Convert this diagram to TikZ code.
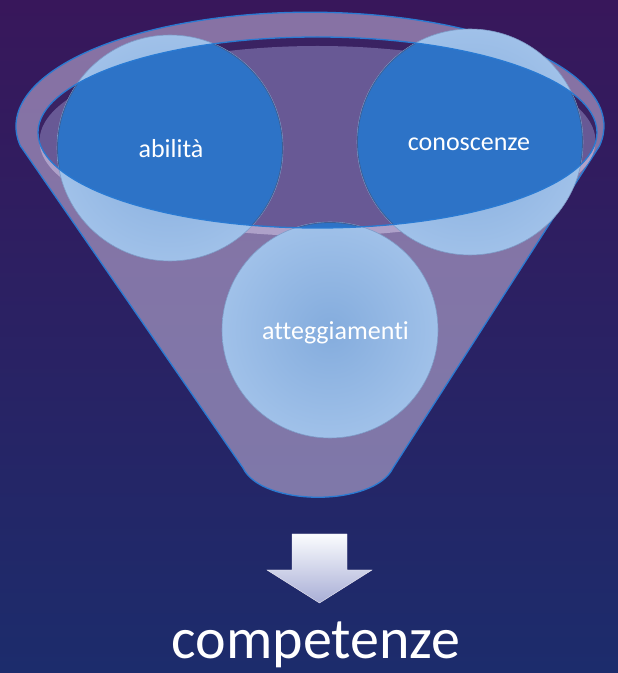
\documentclass[tikz,border=0pt]{standalone}
\usepackage{fontspec}
\setmainfont{Carlito}[Ligatures=NoCommon]
\definecolor{bgtop}{HTML}{38175B}
\definecolor{bgbot}{HTML}{1C2C6C}
\definecolor{funnelc}{HTML}{CABCE0}
\definecolor{rimblue}{HTML}{2A7AD2}
\definecolor{rimlight}{HTML}{AEA1C9}
\definecolor{darkin}{HTML}{3A2262}
\definecolor{midin}{HTML}{685995}
\definecolor{bubin}{HTML}{84ACDD}
\definecolor{bubout}{HTML}{A0C1E9}
\definecolor{bubrim}{HTML}{7E9CC8}
\definecolor{bubdark}{HTML}{2D73C7}
\definecolor{bubedge}{HTML}{3D5F95}
\begin{document}
\begin{tikzpicture}[x=1pt,y=1pt,
  bub/.style={circle, inner sep=0pt, shading=radial, inner color=bubin, outer color=bubout, draw=bubrim, line width=0.6pt},
  lab/.style={text=white, font=\fontsize{26}{30}\selectfont, anchor=base, inner sep=0pt},
  rimline/.style={draw=rimblue, line width=1.3pt}]
\path[use as bounding box, top color=bgtop, bottom color=bgbot] (0,0) rectangle (618,673);
% funnel body
\path[fill=funnelc, fill opacity=0.55, rimline]
  (20.5,527) -- (243,205) .. controls (262,166) and (374,166) .. (393,205)
  -- (599.5,527) arc[start angle=-10,end angle=190,x radius=294,y radius=114] -- cycle;
% opening
\fill[rimlight] (317.5,532) ellipse[x radius=278, y radius=95];
\fill[darkin] (317.5,540.5) ellipse[x radius=279.5, y radius=95.5];
\begin{scope}
  \clip (317.5,540.5) ellipse[x radius=279.5, y radius=95.5];
  \fill[midin] (317.5,532) ellipse[x radius=278, y radius=95];
\end{scope}
% bubbles
\node[bub, minimum size=226pt] (ab) at (170,525) {};
\node[bub, minimum size=226pt] (co) at (470,531) {};
\node[bub, minimum size=216pt] (at) at (330,343) {};
\begin{scope}
  \clip (317.5,540.5) ellipse[x radius=279.5, y radius=95.5];
  \path[fill=bubdark, draw=bubedge, line width=0.8pt] (ab.center) circle[radius=112.5];
  \path[fill=bubdark, draw=bubedge, line width=0.8pt] (co.center) circle[radius=112.5];
  \path[fill=bubdark, draw=bubedge, line width=0.8pt] (at.center) circle[radius=107.5];
\end{scope}
\draw[rimline] (317.5,540.5) ellipse[x radius=279.5, y radius=95.5];
% labels
\node[lab] (tab) at (171,515) {abilità};
\node[lab] (tco) at (469,522) {conoscenze};
\node[lab] (tat) at (335.5,333) {atteggiamenti};
% arrow
\path[top color=white!95!bubout, bottom color=rimlight!60!bubout, draw=white!80!rimlight, line width=0.4pt]
  (292,139) -- (347,139) -- (347,103) -- (372,103) -- (319.5,70) -- (267,103) -- (292,103) -- cycle;
\node[text=white, font=\fontsize{58}{64}\selectfont, anchor=base, inner sep=0pt] (comp) at (316,15) {competenze};
\end{tikzpicture}
\end{document}
